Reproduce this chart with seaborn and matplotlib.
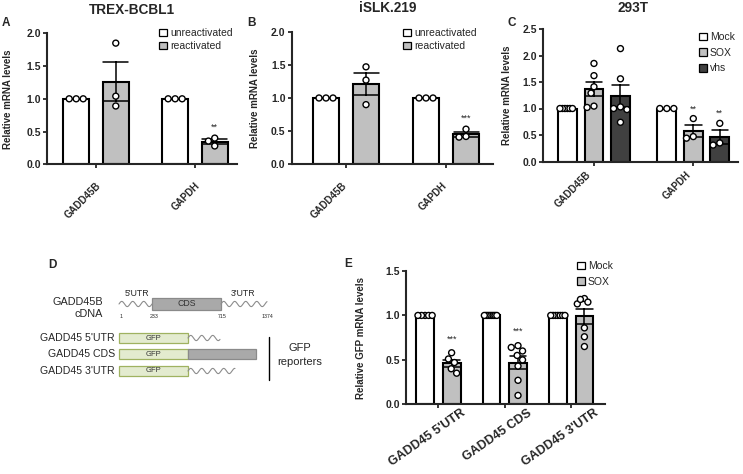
import numpy as np
import pandas as pd
import matplotlib.pyplot as plt
import seaborn as sns
from matplotlib.patches import Patch, Rectangle
from matplotlib.transforms import ScaledTranslation

# ---- data ----
genes_ab = ['GADD45B', 'GADD45B', 'GAPDH', 'GAPDH']
conds_ab = ['unreactivated', 'reactivated', 'unreactivated', 'reactivated']

# TREX-BCBL1
trex_unreact_gadd = [1.0, 1.0, 1.0]
trex_react_gadd = [1.85, 1.04, 0.89]
trex_unreact_gapdh = [1.0, 1.0, 1.0]
trex_react_gapdh = [0.40, 0.28, 0.355]

# iSLK.219
islk_unreact_gadd = [1.0, 1.0, 1.0]
islk_react_gadd = [1.47, 1.27, 0.90]
islk_unreact_gapdh = [1.0, 1.0, 1.0]
islk_react_gapdh = [0.53, 0.42, 0.41]

# 293T
genes_c = ['GADD45B', 'GADD45B', 'GADD45B', 'GAPDH', 'GAPDH', 'GAPDH']
conds_c = ['Mock', 'SOX', 'vhs', 'Mock', 'SOX', 'vhs']
t293_mock_gadd = [1.0, 1.0, 1.0, 1.0, 1.0, 1.0]
t293_sox_gadd = [1.85, 1.62, 1.41, 1.29, 1.02, 1.045]
t293_vhs_gadd = [2.13, 1.56, 1.0, 0.98, 1.03, 0.74]
t293_mock_gapdh = [1.0, 1.0, 1.0]
t293_sox_gapdh = [0.81, 0.44, 0.47]
t293_vhs_gapdh = [0.72, 0.31, 0.35]

# GFP reporters
genes_e = ["GADD45 5'UTR", "GADD45 5'UTR", 'GADD45 CDS', 'GADD45 CDS', "GADD45 3'UTR", "GADD45 3'UTR"]
conds_e = ['Mock', 'SOX', 'Mock', 'SOX', 'Mock', 'SOX']
gfp_mock_5utr = [1.0, 1.0, 1.0, 1.0, 1.0]
gfp_sox_5utr = [0.58, 0.51, 0.47, 0.40, 0.35]
gfp_mock_cds = [1.0, 1.0, 1.0, 1.0, 1.0, 1.0, 1.0, 1.0]
gfp_sox_cds = [0.66, 0.64, 0.60, 0.55, 0.50, 0.43, 0.27, 0.10]
gfp_mock_3utr = [1.0, 1.0, 1.0, 1.0, 1.0, 1.0, 1.0]
gfp_sox_3utr = [1.19, 1.15, 1.13, 1.18, 0.86, 0.76, 0.65]

# significance marks: (gene index, hue index, y, text)
stars_a = [(1, 1, 0.57, '**')]
stars_b = [(1, 1, 0.69, '***')]
stars_c = [(1, 1, 0.98, '**'), (1, 2, 0.91, '**')]
stars_e = [(0, 1, 0.735, '***'), (1, 1, 0.82, '***')]

# construct diagram
cdna_positions = ['1', '233', '715', '1374']
reporter_names = ["GADD45 5'UTR", 'GADD45 CDS', "GADD45 3'UTR"]
reporter_tails = ['wave', 'box', 'wave']

W, H = 743, 474
sns.set_style('ticks')
plt.rcParams['font.family'] = ['Liberation Sans', 'DejaVu Sans']

fig = plt.figure(figsize=(W / 100, H / 100), dpi=100)


def px_box(left, top, right, bottom):
    return [left / W, 1 - bottom / H, (right - left) / W, (bottom - top) / H]


def long_frame(genes, conds, values):
    rows = []
    for g, c, vals in zip(genes, conds, values):
        for v in vals:
            rows.append((g, c, v))
    return pd.DataFrame(rows, columns=['gene', 'cond', 'value'])


def spread_points(ax, bar_w, d=7.0):
    # simple beeswarm in pixel space, squeezed to stay inside the bar
    pos = ax.get_position()
    x0, x1 = ax.get_xlim()
    y0, y1 = ax.get_ylim()
    sx = pos.width * W / (x1 - x0)
    sy = pos.height * H / (y1 - y0)
    half_span = bar_w * sx * 0.4
    for coll in ax.collections:
        offs = np.array(coll.get_offsets(), dtype=float)
        if len(offs) < 2:
            continue
        cx = offs[:, 0].mean()
        ys = offs[:, 1] * sy
        xs = np.zeros(len(offs))
        placed = []
        for i in np.argsort(-ys, kind='stable'):
            cands = [0.0]
            for j in placed:
                dy = abs(ys[i] - ys[j])
                if dy < d:
                    dx = np.sqrt(d ** 2 - dy ** 2)
                    cands += [xs[j] - dx, xs[j] + dx]
            cands.sort(key=lambda c: (abs(c), c))
            for c in cands:
                ok = all((c - xs[j]) ** 2 + (ys[i] - ys[j]) ** 2 >= d ** 2 - 1e-6 for j in placed)
                if ok:
                    xs[i] = c
                    break
            placed.append(i)
        widest = np.abs(xs).max()
        if widest > half_span:
            xs *= half_span / widest
        offs[:, 0] = cx + xs / sx
        coll.set_offsets(offs)


def bar_panel(ax, df, order, hue_order, colors, gap, ylim, yticks, xlim,
              ylabel, lab_off, ylab_x, stars, rot=45, lab_fs=7):
    pal = dict(zip(hue_order, colors))
    n = len(hue_order)
    sns.barplot(data=df, x='gene', y='value', hue='cond', order=order,
                hue_order=hue_order, palette=pal, saturation=1,
                errorbar='se', capsize=0.5, width=0.8, gap=gap,
                edgecolor='black', linewidth=1.5,
                err_kws={'color': 'black', 'linewidth': 1.1}, ax=ax)
    sns.stripplot(data=df, x='gene', y='value', hue='cond', order=order,
                  hue_order=hue_order, dodge=True, jitter=False,
                  palette={h: 'white' for h in hue_order},
                  edgecolor='black', linewidth=1.0, size=4.3,
                  legend=False, ax=ax, zorder=5)
    if ax.get_legend() is not None:
        ax.get_legend().remove()
    ax.set_xlim(*xlim)
    ax.set_ylim(*ylim)
    spread_points(ax, 0.8 / n * (1 - gap))
    ax.set_yticks(yticks)
    ax.set_yticklabels([f'{t:.1f}' for t in yticks], fontweight='bold', fontsize=7.5)
    ax.set_xlabel('')
    ax.set_ylabel(ylabel, fontweight='bold', fontsize=7)
    ax.yaxis.set_label_coords(ylab_x, 0.5)
    sns.despine(ax=ax)
    for s in ['left', 'bottom']:
        ax.spines[s].set_linewidth(1.5)
    ax.tick_params(axis='y', length=3, width=1.3, pad=1.5)
    ax.tick_params(axis='x', length=3, width=1.3, pad=0)
    ax.set_xticks(range(len(order)))
    ax.set_xticklabels(order, rotation=rot, ha='right', va='center',
                       rotation_mode='anchor', fontweight='bold', fontsize=lab_fs)
    dx, dy = lab_off
    shift = ScaledTranslation(dx / 100, -(dy - 4.2) / 100, fig.dpi_scale_trans)
    for lbl in ax.get_xticklabels():
        lbl.set_transform(lbl.get_transform() + shift)
    for gi, hi, y, txt in stars:
        x = gi + (hi - (n - 1) / 2) * 0.8 / n
        ax.text(x, y, txt, ha='center', va='center', fontsize=6.5, zorder=6)


def add_legend(ax, labels, colors, left, top, spacing):
    handles = [Patch(facecolor=c, edgecolor='black', linewidth=0.9) for c in colors]
    ax.legend(handles, labels, loc='upper left', frameon=False,
              bbox_to_anchor=(left / W, 1 - top / H), bbox_transform=fig.transFigure,
              borderpad=0, borderaxespad=0, handlelength=0.75, handleheight=0.75,
              handletextpad=0.3, labelspacing=spacing, fontsize=7.5)


grey = '#c0c0c0'
dark = '#404040'

# ---- A ----
ax_a = fig.add_axes(px_box(47, 33.3, 237, 164.3))
df_a = long_frame(genes_ab, conds_ab,
                  [trex_unreact_gadd, trex_react_gadd, trex_unreact_gapdh, trex_react_gapdh])
bar_panel(ax_a, df_a, ['GADD45B', 'GAPDH'], ['unreactivated', 'reactivated'],
          ['white', grey], 0.35, (0, 2.0), [0, 0.5, 1.0, 1.5, 2.0],
          (-0.495, 1.425), 'Relative mRNA levels', (3.5, 20), -0.18, stars_a)
add_legend(ax_a, ['unreactivated', 'reactivated'], ['white', grey], 159, 28, 0.3)

# ---- B ----
ax_b = fig.add_axes(px_box(291.7, 31.7, 493, 164.3))
df_b = long_frame(genes_ab, conds_ab,
                  [islk_unreact_gadd, islk_react_gadd, islk_unreact_gapdh, islk_react_gapdh])
bar_panel(ax_b, df_b, ['GADD45B', 'GAPDH'], ['unreactivated', 'reactivated'],
          ['white', grey], 0.35, (0, 2.0), [0, 0.5, 1.0, 1.5, 2.0],
          (-0.543, 1.47), 'Relative mRNA levels', (-1, 20), -0.155, stars_b)
add_legend(ax_b, ['unreactivated', 'reactivated'], ['white', grey], 403, 28, 0.3)

# ---- C ----
ax_c = fig.add_axes(px_box(543.3, 29, 738, 161.5))
df_c = long_frame(genes_c, conds_c,
                  [t293_mock_gadd, t293_sox_gadd, t293_vhs_gadd,
                   t293_mock_gapdh, t293_sox_gapdh, t293_vhs_gapdh])
bar_panel(ax_c, df_c, ['GADD45B', 'GAPDH'], ['Mock', 'SOX', 'vhs'],
          ['white', grey, dark], 0.29, (0, 2.5), [0, 0.5, 1.0, 1.5, 2.0, 2.5],
          (-0.51, 1.45), 'Relative mRNA levels', (-4.5, 11.5), -0.16, stars_c)
add_legend(ax_c, ['Mock', 'SOX', 'vhs'], ['white', grey, dark], 699, 32, 0.55)

# ---- E ----
ax_e = fig.add_axes(px_box(406, 271, 605, 404.3))
df_e = long_frame(genes_e, conds_e,
                  [gfp_mock_5utr, gfp_sox_5utr, gfp_mock_cds, gfp_sox_cds,
                   gfp_mock_3utr, gfp_sox_3utr])
bar_panel(ax_e, df_e, ["GADD45 5'UTR", 'GADD45 CDS', "GADD45 3'UTR"], ['Mock', 'SOX'],
          ['white', grey], 0.33, (0, 1.5), [0, 0.5, 1.0, 1.5],
          (-0.487, 2.51), 'Relative GFP mRNA levels', (26, 8), -0.2, stars_e,
          rot=35, lab_fs=9)
add_legend(ax_e, ['Mock', 'SOX'], ['white', grey], 577, 261, 0.55)

# ---- titles and panel letters ----
fig.text(132 / W, 1 - 10 / H, 'TREX-BCBL1', ha='center', va='center', fontsize=9.8, fontweight='bold')
fig.text(388 / W, 1 - 8 / H, 'iSLK.219', ha='center', va='center', fontsize=9.8, fontweight='bold')
fig.text(633 / W, 1 - 8 / H, '293T', ha='center', va='center', fontsize=9.8, fontweight='bold')
for letter, x, y in [('A', 6, 23), ('B', 251, 23), ('C', 512, 23), ('D', 52, 265), ('E', 348, 264)]:
    fig.text(x / W, 1 - y / H, letter, ha='center', va='center', fontsize=8.5, fontweight='bold')

# ---- D: construct diagram (pixel coordinates) ----
ax_d = fig.add_axes([0, 0, 1, 1], zorder=-1)
ax_d.set_xlim(0, W)
ax_d.set_ylim(H, 0)
ax_d.axis('off')
wave_col = '#8c8c8c'
gfp_face, gfp_edge = '#e3ebcf', '#9fb260'
cds_face, cds_edge = '#a9a9a9', '#8a8a8a'


def wave(x0, x1, y, period=11.0, amp=2.6):
    xs = np.linspace(x0, x1, 200)
    ax_d.plot(xs, y - amp * np.sin(2 * np.pi * (xs - x0) / period), color=wave_col, lw=0.8)


def box(x0, x1, y, h, face, edge, label=None, fs=6):
    ax_d.add_patch(Rectangle((x0, y - h / 2), x1 - x0, h, facecolor=face, edgecolor=edge, lw=0.9))
    if label:
        ax_d.text((x0 + x1) / 2, y, label, ha='center', va='center', fontsize=fs, color='#333333')


ax_d.text(103, 302, 'GADD45B', ha='right', va='center', fontsize=7.8)
ax_d.text(103, 314, 'cDNA', ha='right', va='center', fontsize=7.8)
ax_d.text(137, 293, "5'UTR", ha='center', va='center', fontsize=6.3)
ax_d.text(243, 293, "3'UTR", ha='center', va='center', fontsize=6.3)
wave(119, 152, 304)
box(152, 221, 304, 12, cds_face, cds_edge, 'CDS', 6.3)
wave(221, 267, 304)
for lab, x in zip(cdna_positions, [121, 154, 222, 267]):
    ax_d.text(x, 317, lab, ha='center', va='center', fontsize=3.8)

row_y = [338, 354, 371]
for name, tail, y in zip(reporter_names, reporter_tails, row_y):
    ax_d.text(115, y, name, ha='right', va='center', fontsize=7.6)
    box(119, 188, y, 10, gfp_face, gfp_edge, 'GFP', 5.5)
    if tail == 'box':
        box(188, 256, y, 10, cds_face, cds_edge)
    elif y == row_y[0]:
        wave(188, 220, y)
    else:
        wave(188, 235, y)
ax_d.plot([269, 269], [337, 380], color='black', lw=1.0)
ax_d.text(300, 348, 'GFP', ha='center', va='center', fontsize=8)
ax_d.text(300, 362, 'reporters', ha='center', va='center', fontsize=8)

fig.savefig('out.png', dpi=100)
